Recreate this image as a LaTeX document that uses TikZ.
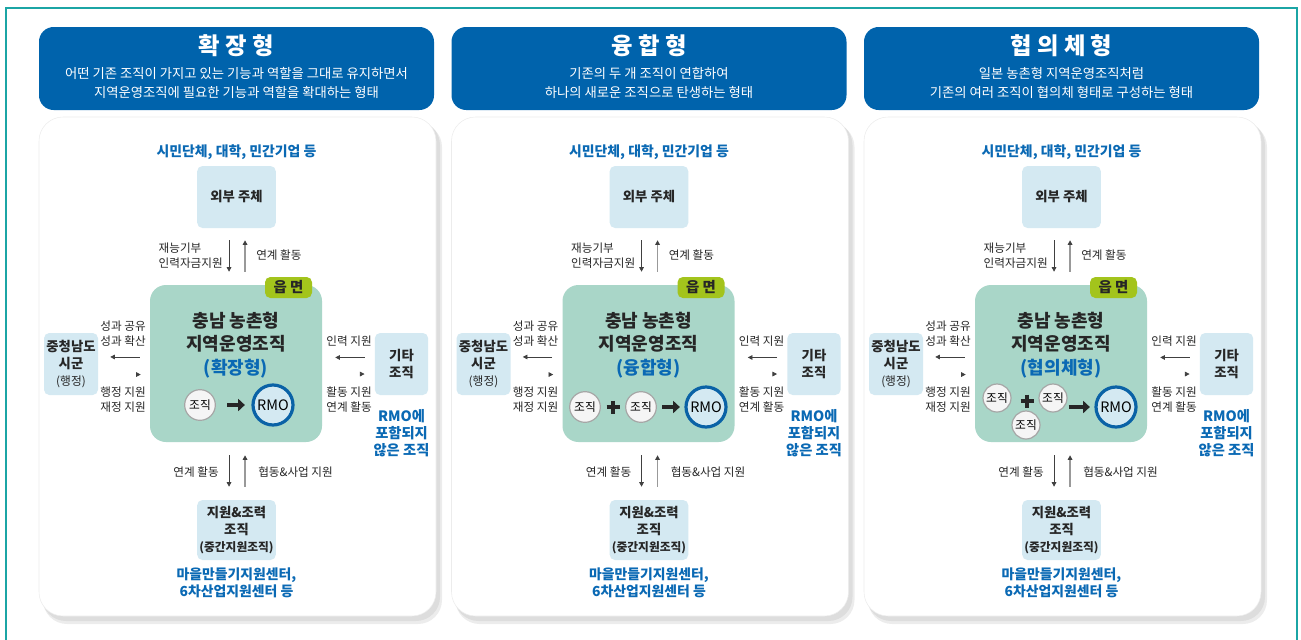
\documentclass[tikz,border=0pt]{standalone}
\usepackage{fontspec}
\setmainfont{Noto Sans CJK KR}
\usetikzlibrary{arrows.meta,calc}
\definecolor{hdrblue}{HTML}{0063AC}
\definecolor{txtblue}{HTML}{0A69B4}
\definecolor{boxblue}{HTML}{D4E9F2}
\definecolor{maingreen}{HTML}{A9D6C8}
\definecolor{taggreen}{HTML}{A3C41C}
\definecolor{frameteal}{HTML}{1BA5A5}
\definecolor{ringblue}{HTML}{0A62A6}
\tikzset{
  hdr/.style={fill=hdrblue,rounded corners=11pt},
  card/.style={fill=white,draw=gray!15,rounded corners=18pt},
  sbox/.style={fill=boxblue,rounded corners=4pt,align=center,inner sep=0pt,text=black!85,
    font=\fontsize{10}{12.6}\selectfont\bfseries},
  lbl/.style={inner sep=0pt,align=left,text=black!85,font=\fontsize{8.7}{11.2}\selectfont},
  bluetxt/.style={inner sep=0pt,align=center,text=txtblue,font=\fontsize{10.4}{12.75}\selectfont\bfseries},
  orgc/.style={circle,draw=gray!70,line width=0.9pt,fill=gray!8,minimum size=23pt,inner sep=0pt,
    font=\fontsize{8.8}{8.8}\selectfont},
  rmoc/.style={circle,draw=ringblue,line width=2.4pt,fill=boxblue,minimum size=30pt,inner sep=0pt,
    font=\fontsize{10.8}{10.8}\selectfont},
  darr/.style={-{Triangle[length=3.5pt,width=3.5pt]},black!75,line width=0.6pt},
  uarr/.style={-{Triangle[length=3.5pt,width=3.5pt,color=black!75]},black!40,line width=0.9pt},
  stub/.style={-{Triangle[length=3.5pt,width=3.5pt]},black!75,line width=0.6pt},
  fat/.style={-{Triangle[length=5pt,width=9pt]},line width=3.6pt,black!85},
}
\begin{document}
\begin{tikzpicture}[x=0.75pt,y=-0.75pt]
\useasboundingbox (0,0) rectangle (1301,639);
%frame
\draw[frameteal,line width=1.5pt] (6,650) -- (6,8) -- (1297,8) -- (1297,650);
\foreach \i/\ox/\ttl/\subA/\subB/\kind in {
  1/0/확 장 형/어떤 기존 조직이 가지고 있는 기능과 역할을 그대로 유지하면서/지역운영조직에 필요한 기능과 역할을 확대하는 형태/확장형,
  2/412.5/융 합 형/기존의 두 개 조직이 연합하여/하나의 새로운 조직으로 탄생하는 형태/융합형,
  3/825/협 의 체 형/일본 농촌형 지역운영조직처럼/기존의 여러 조직이 협의체 형태로 구성하는 형태/협의체형}{
\begin{scope}[shift={(\ox,0)}]
  %header
  \fill[hdr] (39,27) rectangle (434,110);
  \node[text=white,font=\fontsize{17.5}{17.5}\selectfont\bfseries] (ttl\i) at (236.5,46) {\ttl};
  \node[text=white,align=center,font=\fontsize{10}{14.2}\selectfont] (sub\i) at (236.5,83) {\subA\\\subB};
  %card
  \fill[black!25,opacity=.6,rounded corners=18pt] (42,121) rectangle (440,621);
  \fill[black!12,opacity=.6,rounded corners=18pt] (43,123) rectangle (442,624);
  \filldraw[card] (39,117) rectangle (436,616);
  \node[bluetxt] (ttop\i) at (236.5,152) {시민단체, 대학, 민간기업 등};
  %boxes
  \node[sbox,minimum width=59pt,minimum height=46.5pt] (ext\i) at (236.5,197) {외부 주체};
  \node[fill=maingreen,rounded corners=12pt,minimum width=129pt,minimum height=117.75pt] (main\i) at (236,363.5) {};
  \node[fill=taggreen,rounded corners=4pt,minimum width=35.25pt,minimum height=15.75pt,inner sep=0pt,
    font=\fontsize{10.8}{10.8}\selectfont\bfseries,text=black!85] (tag\i) at (288.5,287.5) {읍 면};
  \node[align=center,inner sep=0pt,text=black!85,font=\fontsize{13.5}{17.4}\selectfont\bfseries] (mtxt\i) at (236,345)
    {충남 농촌형\\지역운영조직\\\textcolor{txtblue}{(\kind)}};
  \node[sbox,minimum width=40.5pt,minimum height=46.5pt] (lbox\i) at (71,364)
    {중청남도\\시군\\{\fontsize{8.8}{10}\selectfont\mdseries (행정)}};
  \node[sbox,minimum width=40pt,minimum height=46.5pt] (rbox\i) at (401.5,364) {기타\\조직};
  \node[sbox,minimum width=59pt,minimum height=45pt] (bbox\i) at (236.5,530)
    {지원\&조력\\조직\\{\fontsize{8.8}{10}\selectfont (중간지원조직)}};
  %arrows
  \draw[darr,shorten <=9pt,shorten >=9.75pt] ([xshift=-5.6pt]ext\i.south) -- ([xshift=-5.6pt]ext\i.south |- main\i.north);
  \draw[uarr,shorten <=9.75pt,shorten >=9pt] ([xshift=6.4pt]ext\i.south |- main\i.north) -- ([xshift=6.4pt]ext\i.south);
  \draw[darr,shorten <=7.5pt,shorten >=9pt] ([yshift=4.9pt]main\i.west) -- ([yshift=4.9pt]main\i.west -| lbox\i.east);
  \draw[stub,shorten <=28.75pt,shorten >=6.75pt] ([yshift=-7.9pt]lbox\i.east) -- ([yshift=-7.9pt]lbox\i.east -| main\i.west);
  \draw[darr,shorten <=7.5pt,shorten >=9.75pt] ([yshift=4.9pt]rbox\i.west) -- ([yshift=4.9pt]rbox\i.west -| main\i.east);
  \draw[stub,shorten <=28.75pt,shorten >=7.5pt] ([yshift=-7.9pt]main\i.east) -- ([yshift=-7.9pt]main\i.east -| rbox\i.west);
  \draw[darr,shorten <=9.75pt,shorten >=9.75pt] ([xshift=-5.6pt]main\i.south -| ext\i.south) -- ([xshift=-5.6pt]bbox\i.north);
  \draw[uarr,shorten <=9.75pt,shorten >=9.75pt] ([xshift=6.4pt]bbox\i.north) -- ([xshift=6.4pt]main\i.south -| ext\i.south);
  %labels
  \node[lbl,anchor=east] (l1\i) at (223,256) {재능기부\\인력자금지원};
  \node[lbl,anchor=west] (l2\i) at (256,255) {연계 활동};
  \node[lbl,anchor=east] (l3\i) at (146,334) {성과 공유\\성과 확산};
  \node[lbl,anchor=east] (l4\i) at (146,400) {행정 지원\\재정 지원};
  \node[lbl,anchor=east] (l5\i) at (372,341) {인력 지원};
  \node[lbl,anchor=east] (l6\i) at (372,400) {활동 지원\\연계 활동};
  \node[lbl,anchor=east] (l7\i) at (219,472) {연계 활동};
  \node[lbl,anchor=west] (l8\i) at (258,472) {협동\&사업 지원};
  \node[bluetxt,font=\fontsize{10.7}{12.75}\selectfont\bfseries] (rnote\i) at (401.5,433) {RMO에\\포함되지\\않은 조직};
  \node[bluetxt] (tbot\i) at (236.5,583) {마을만들기지원센터,\\6차산업지원센터 등};
\end{scope}
}
%확장형
\node[orgc] (c11) at (200,405) {조직};
\node[rmoc] (rmo1) at (273,405) {RMO};
\draw[fat,shorten <=8.6pt,shorten >=4.9pt] (c11) -- (rmo1);
%융합형
\begin{scope}[shift={(412.5,0)}]
  \node[orgc] (c12) at (172.5,407) {조직};
  \node[orgc] (c22) at (228.5,407) {조직};
  \node[rmoc] (rmo2) at (293.5,407) {RMO};
  \draw[line width=3pt,black!85] (194,407) -- (207,407) (200.5,400.5) -- (200.5,413.5);
  \draw[fat,shorten <=4.1pt,shorten >=3.4pt] (c22) -- (rmo2);
\end{scope}
%협의체형
\begin{scope}[shift={(825,0)}]
  \node[orgc,minimum size=21pt] (c13) at (172,398) {조직};
  \node[orgc,minimum size=21pt] (c23) at (228,398) {조직};
  \node[orgc,minimum size=21pt] (c33) at (201,425) {조직};
  \node[rmoc] (rmo3) at (291,407) {RMO};
  \draw[line width=3pt,black!85] (195.5,401) -- (208.5,401) (202,394.5) -- (202,407.5);
  \draw[fat,shorten <=0.75pt,shorten >=3.4pt] (rmo3.west -| c23.east) -- (rmo3.west);
\end{scope}
\end{tikzpicture}
\end{document}
